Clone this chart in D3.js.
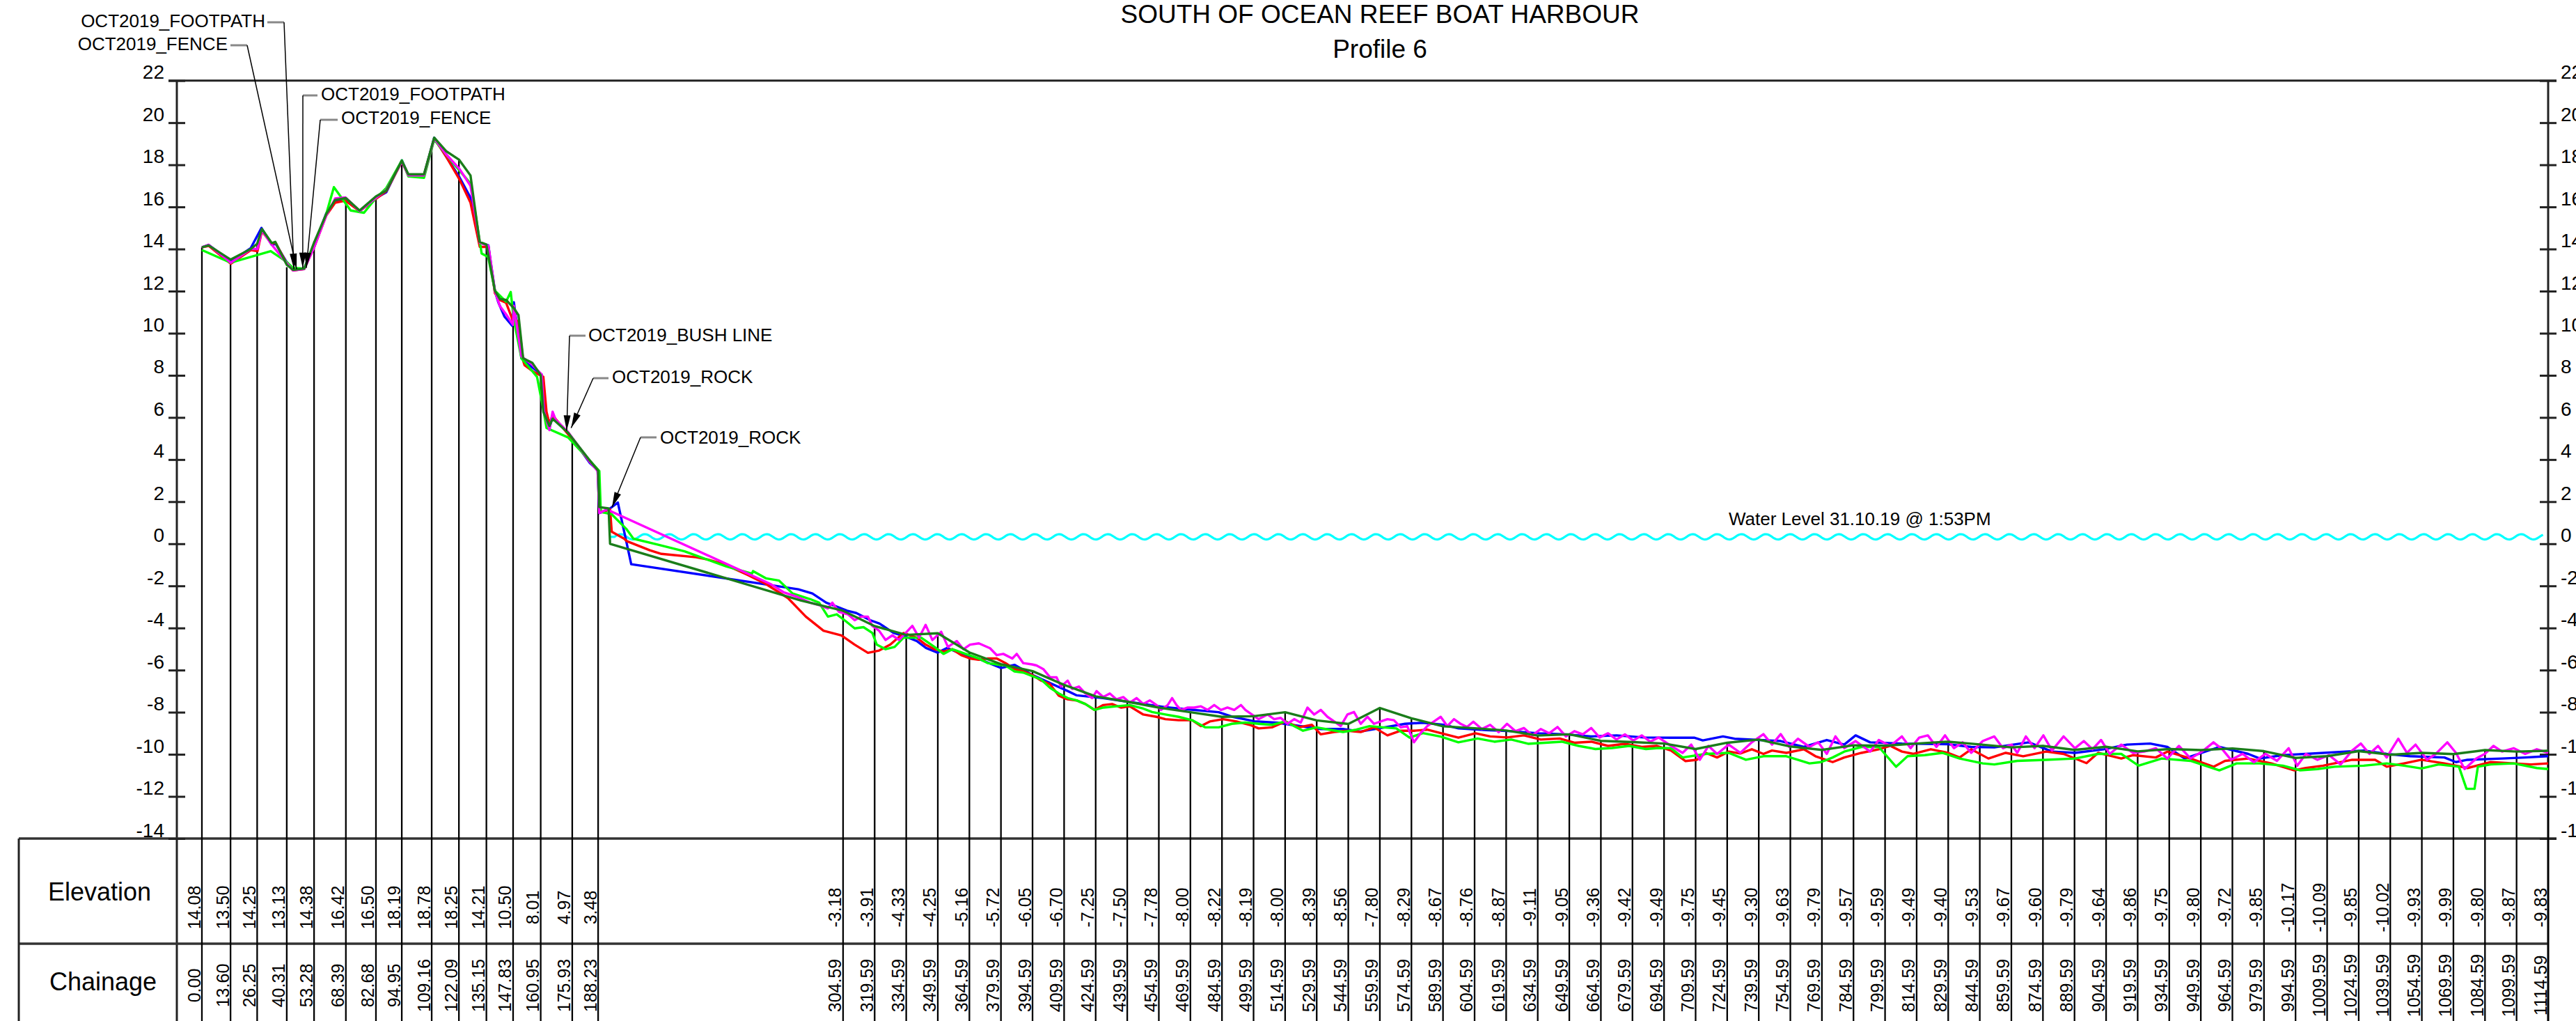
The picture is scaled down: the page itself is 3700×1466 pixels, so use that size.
<!DOCTYPE html>
<html>
<head>
<meta charset="utf-8">
<script src="https://cdn.jsdelivr.net/npm/d3@7/dist/d3.min.js"></script>
<style>
body { margin: 0; background: #fff; }
svg text { font-family: "Liberation Sans", Arial, sans-serif; fill: #000; }
</style>
</head>
<body>
<div id="chart"></div>
<script>
"use strict"
// Survey table printed under the section (chainage in m, elevation in m)
var tableChainage = [0.00, 13.60, 26.25, 40.31, 53.28, 68.39, 82.68, 94.95, 109.16, 122.09, 135.15, 147.83, 160.95, 175.93, 188.23,
    304.59, 319.59, 334.59, 349.59, 364.59, 379.59, 394.59, 409.59, 424.59, 439.59, 454.59, 469.59, 484.59, 499.59, 514.59,
    529.59, 544.59, 559.59, 574.59, 589.59, 604.59, 619.59, 634.59, 649.59, 664.59, 679.59, 694.59, 709.59, 724.59, 739.59,
    754.59, 769.59, 784.59, 799.59, 814.59, 829.59, 844.59, 859.59, 874.59, 889.59, 904.59, 919.59, 934.59, 949.59, 964.59,
    979.59, 994.59, 1009.59, 1024.59, 1039.59, 1054.59, 1069.59, 1084.59, 1099.59, 1114.59];
var tableElevation = [14.08, 13.50, 14.25, 13.13, 14.38, 16.42, 16.50, 18.19, 18.78, 18.25, 14.21, 10.50, 8.01, 4.97, 3.48,
    -3.18, -3.91, -4.33, -4.25, -5.16, -5.72, -6.05, -6.70, -7.25, -7.50, -7.78, -8.00, -8.22, -8.19, -8.00,
    -8.39, -8.56, -7.80, -8.29, -8.67, -8.76, -8.87, -9.11, -9.05, -9.36, -9.42, -9.49, -9.75, -9.45, -9.30,
    -9.63, -9.79, -9.57, -9.59, -9.49, -9.40, -9.53, -9.67, -9.60, -9.79, -9.64, -9.86, -9.75, -9.80, -9.72,
    -9.85, -10.17, -10.09, -9.85, -10.02, -9.93, -9.99, -9.80, -9.87, -9.83];

var yTicks = [-14, -12, -10, -8, -6, -4, -2, 0, 2, 4, 6, 8, 10, 12, 14, 16, 18, 20, 22];
var waterLevel = 0.33;

// Oct 2019 survey (dark green) - dune part, the offshore part follows the table
var surveyOct2019Shore = [[0, 14.08], [3.2, 14.17], [13.6, 13.5], [23.25, 14.0], [26.25, 14.25], [28.5, 14.95], [33.2, 14.28],
    [34.85, 14.34], [40.31, 13.25], [43.3, 13.01], [48.6, 13.07], [53.28, 14.3], [59.1, 15.67], [63.3, 16.33], [68.39, 16.42],
    [74.9, 15.83], [82.68, 16.5], [87.6, 16.77], [94.95, 18.19], [98.1, 17.55], [105.5, 17.55], [110.35, 19.29], [116, 18.65],
    [122.09, 18.25], [127.6, 17.49], [131.9, 14.34], [135.15, 14.21], [139.2, 12.02], [141.5, 11.63], [144.5, 11.58],
    [148.2, 11.19], [150.4, 10.86], [152.6, 8.81], [157, 8.59], [160.95, 8.01], [162.2, 6.27], [165.1, 5.6], [166.6, 5.94],
    [174, 5.27], [184.3, 3.95], [188.23, 3.48], [188.8, 1.74], [193.2, 1.68], [193.9, 0.0], [284.4, -2.69]];

var surveyRed = [[0, 14.08], [3.2, 14.15], [13.76, 13.3], [23.25, 13.95], [26.4, 13.9], [28.5, 14.85], [33.2, 14.25], [35, 14.3],
    [40.1, 13.35], [43.3, 12.98], [48.6, 13.05], [53.4, 14.1], [59.1, 15.6], [63.3, 16.2], [68.2, 16.3], [74.9, 15.8],
    [82.3, 16.35], [87.6, 16.75], [95, 18.15], [98.1, 17.5], [105.5, 17.5], [110.35, 19.25], [116, 18.4], [122.4, 17.3],
    [127.6, 16.2], [132, 14.1], [136.1, 14.1], [139.2, 11.9], [141.5, 11.58], [144.5, 11.45], [148.2, 10.47], [150.4, 10.6],
    [152.6, 8.7], [153.3, 8.48], [157.8, 8.15], [162.2, 7.93], [163.7, 6.27], [165.1, 5.7], [166.6, 6.1], [174, 5.2],
    [184.3, 3.9], [188, 3.5], [189.5, 1.51], [193.9, 1.63], [194.7, 0.57], [200.6, 0.24], [201.75, 0.13], [212.8, -0.31],
    [218.3, -0.48], [234.8, -0.64], [240.3, -0.75], [248.1, -0.97], [259.1, -1.47], [267.9, -1.91], [278.4, -2.58],
    [286.9, -3.46], [295.3, -4.13], [303.8, -4.35], [310.1, -4.79], [316.4, -5.18], [321.7, -5.07], [327, -4.79],
    [333.3, -4.24], [339.6, -4.46], [343.8, -4.79], [348, -5.01], [352.3, -5.12], [356.5, -5.01], [360.7, -5.29],
    [364.9, -5.45], [369.1, -5.51], [373.4, -5.45], [377.6, -5.45], [381.8, -5.67], [386, -5.95], [390.2, -6.06],
    [394.4, -6.23], [398.7, -6.5], [402.9, -6.67], [407.1, -7.22], [411.3, -7.39], [415.5, -7.44], [419.7, -7.61],
    [424, -7.89], [428.2, -7.66], [432.4, -7.61], [436.6, -7.78], [440.8, -7.72], [447.2, -8.11], [453.5, -8.22],
    [457.7, -8.33], [464, -8.38], [470.4, -8.38], [474.6, -8.66], [478.8, -8.44], [485.1, -8.33], [491.5, -8.44],
    [497.8, -8.6], [502, -8.77], [508.3, -8.72], [514.7, -8.44], [521, -8.72], [527.3, -8.6], [531.5, -9.05], [537.9, -8.94],
    [544.2, -8.88], [550.5, -8.94], [556.8, -8.72], [563.2, -9.1], [569.5, -8.88], [575.8, -8.88], [582.1, -8.83],
    [588.5, -8.99], [596.9, -9.21], [605, -9.0], [612, -9.15], [620, -9.2], [628, -9.1], [636, -9.3], [645, -9.25],
    [652, -9.45], [660, -9.4], [668, -9.6], [676, -9.5], [684, -9.65], [691, -9.6], [697.9, -9.82], [704.8, -10.32],
    [710.2, -10.26], [714.4, -9.93], [719.8, -10.15], [725.3, -9.87], [730.8, -9.96], [736.3, -9.76], [741.8, -9.98],
    [745.9, -9.82], [752.7, -9.93], [761, -9.76], [766.5, -10.09], [774.7, -10.37], [780.2, -10.15], [788.4, -9.93],
    [796.6, -9.76], [802.1, -9.6], [807.6, -9.87], [813.1, -9.98], [821.3, -9.76], [829.5, -9.93], [835, -10.15],
    [840.5, -9.76], [848.7, -10.2], [856.9, -9.93], [865.2, -10.09], [876.1, -9.87], [884.4, -9.98], [895.3, -10.42],
    [900.8, -9.93], [911.8, -10.2], [917.3, -10.04], [928.2, -10.15], [933.7, -9.87], [944.7, -10.2], [955.6, -10.59],
    [961.1, -10.31], [972.1, -10.2], [983.1, -10.43], [994, -10.76], [999.5, -10.65], [1007.7, -10.54], [1021.5, -10.26],
    [1032.4, -10.26], [1037.9, -10.59], [1046.1, -10.43], [1054.4, -10.26], [1065.3, -10.43], [1076.3, -10.65],
    [1087.3, -10.37], [1098.2, -10.43], [1106.4, -10.48], [1114.59, -10.43]];

var surveyBlue = [[0, 14.08], [3.2, 14.2], [13.76, 13.4], [23.25, 14.05], [28.3, 15.0], [33.2, 14.2], [35, 14.25], [40.1, 13.4],
    [43.3, 13.0], [48.6, 13.07], [53.4, 14.2], [59.1, 15.7], [63.3, 16.3], [68.2, 16.38], [74.9, 15.8], [82.3, 16.4],
    [87.6, 16.7], [95, 18.21], [98.1, 17.5], [105.5, 17.5], [110.35, 19.29], [116, 18.4], [122.4, 17.4], [127.6, 16.44],
    [132, 14.3], [136.1, 14.17], [139.2, 12.0], [140.8, 11.47], [143.7, 10.8], [147.4, 10.36], [148.2, 11.47], [151.8, 8.81],
    [157, 8.37], [161.4, 8.04], [162.9, 6.27], [165.1, 5.5], [166.6, 6.05], [169.6, 5.72], [174, 5.27], [184.3, 3.84],
    [188, 3.5], [188.8, 1.46], [191.5, 1.55], [193.9, 1.68], [197.6, 1.96], [203.95, -0.97], [283.3, -2.16], [290, -2.36],
    [296.6, -2.8], [301, -2.96], [306.5, -3.18], [310.9, -3.29], [317.5, -3.63], [321.9, -3.79], [328.5, -4.23],
    [334.05, -4.4], [339.6, -4.62], [344, -4.95], [349.5, -5.17], [353.9, -4.95], [358.3, -5.12], [361.6, -5.28],
    [367.1, -5.39], [379.7, -5.9], [386, -5.75], [394.5, -6.23], [411.4, -7.0], [415.6, -7.2], [428, -7.33], [443, -7.55],
    [457.7, -7.76], [470, -7.88], [483, -8.0], [489.3, -8.21], [500, -8.43], [511, -8.5], [521, -8.65], [531.5, -8.8],
    [542, -8.8], [550.4, -8.92], [559, -8.77], [571.6, -8.55], [580, -8.5], [590, -8.6], [597, -8.77], [610, -8.85],
    [622, -8.9], [635, -9.0], [648, -9.05], [660, -9.15], [672, -9.1], [685, -9.2], [697.9, -9.21], [708.9, -9.21],
    [713, -9.34], [722.6, -9.15], [728.1, -9.26], [750, -9.37], [761, -9.65], [771.9, -9.32], [780.2, -9.54], [785.6, -9.1],
    [792.5, -9.43], [807.6, -9.49], [829.5, -9.52], [840.5, -9.65], [851.5, -9.67], [867.9, -9.43], [878.9, -9.87],
    [889.8, -9.93], [903.6, -9.76], [914.5, -9.54], [925.5, -9.49], [933.7, -9.65], [941.9, -10.2], [958.4, -9.65],
    [972.1, -9.98], [977.6, -10.2], [988.6, -10.04], [999.5, -9.98], [1027, -9.82], [1037.9, -9.98], [1048.9, -10.09],
    [1065.3, -10.15], [1070.8, -10.37], [1076.3, -10.26], [1092.7, -10.2], [1103.7, -10.15], [1114.59, -10.09]];

var surveyLime = [[0, 13.95], [13.7, 13.35], [32.7, 13.9], [40.1, 13.4], [43.3, 13.1], [48.6, 13.07], [53.4, 14.12], [59.1, 15.67],
    [62.7, 16.94], [70.7, 15.83], [77, 15.72], [82.3, 16.38], [87.6, 16.9], [95, 18.21], [98.1, 17.45], [105.5, 17.38],
    [110.35, 19.2], [119.2, 18.1], [127.7, 17.1], [132.9, 13.79], [136, 13.62], [139.2, 12.02], [144.5, 11.5], [146.7, 11.96],
    [148.2, 10.64], [151.8, 8.81], [159.2, 7.93], [162.2, 6.38], [163.7, 5.5], [174, 5.05], [184.3, 3.95], [188.8, 3.45],
    [189.5, 1.51], [194.7, 1.4], [201.75, 0.69], [205, 0.24], [216.1, -0.03], [229.3, -0.36], [237, -0.64], [249.2, -1.08],
    [261.3, -1.42], [261.8, -1.3], [267.9, -1.64], [274.2, -1.75], [280.6, -2.36], [289, -2.63], [293.2, -2.8],
    [297.4, -3.46], [301.6, -3.35], [305.9, -3.68], [310.1, -4.02], [314.3, -3.96], [318.5, -4.24], [320.6, -4.79],
    [324.8, -5.01], [329.1, -4.9], [333.3, -4.46], [337.5, -4.46], [341.7, -4.46], [348, -4.9], [352.3, -5.23],
    [356.5, -5.01], [362.8, -5.23], [369.1, -5.45], [373.4, -5.67], [377.6, -5.73], [381.8, -5.78], [386, -6.06],
    [390.2, -6.12], [394.4, -6.28], [398.7, -6.45], [402.9, -6.84], [407.1, -7.11], [411.3, -7.33], [415.5, -7.44],
    [419.7, -7.61], [424, -7.89], [428.2, -7.78], [434.5, -7.72], [440.8, -7.66], [447.2, -7.83], [451.4, -7.99],
    [457.7, -8.11], [464, -8.22], [470.4, -8.38], [476.7, -8.72], [483, -8.72], [489.3, -8.55], [495.7, -8.49], [502, -8.55],
    [508.3, -8.6], [514.7, -8.44], [523.1, -8.88], [529.4, -8.72], [535.7, -8.83], [542.1, -8.94], [548.4, -8.83],
    [554.7, -8.66], [561.1, -8.72], [567.4, -8.77], [573.7, -9.21], [580, -8.99], [588.5, -9.16], [596.9, -9.43],
    [606, -9.25], [614, -9.4], [622, -9.3], [630, -9.5], [638, -9.45], [646, -9.4], [654, -9.6], [662, -9.75], [670, -9.7],
    [678, -9.6], [686, -9.75], [692, -9.7], [697.9, -9.71], [703.4, -10.15], [714.4, -9.98], [725.3, -9.93], [733.5, -10.26],
    [741.8, -10.09], [752.7, -10.09], [763.7, -10.43], [769.2, -10.37], [774.7, -10.15], [780.2, -9.87], [788.4, -9.65],
    [796.6, -9.65], [804.8, -10.59], [810.3, -10.09], [818.5, -10.04], [826.8, -9.93], [835, -10.2], [846, -10.43],
    [851.5, -10.48], [862.4, -10.31], [876.1, -10.26], [889.8, -10.2], [900.8, -9.98], [911.8, -9.98], [920, -10.54],
    [931, -10.2], [944.7, -10.31], [958.4, -10.76], [966.6, -10.43], [977.6, -10.43], [988.6, -10.54], [996.8, -10.76],
    [1005, -10.7], [1013.2, -10.59], [1027, -10.54], [1037.9, -10.43], [1046.1, -10.54], [1054.4, -10.67],
    [1062.6, -10.48], [1072.2, -10.59], [1075.8, -11.64], [1079.6, -11.64], [1081.2, -10.59], [1087.3, -10.48],
    [1098.2, -10.43], [1109.2, -10.65], [1114.59, -10.7]];

var surveyMagenta = [[0, 14.08], [3.2, 14.2], [13.76, 13.35], [23.25, 14.0], [26.4, 14.0], [28.5, 14.9], [33.2, 14.2],
    [40.1, 13.35], [43.3, 12.98], [48.6, 13.05], [53.4, 14.1], [59.1, 15.6], [63.3, 16.4], [68.2, 16.45], [74.9, 15.8],
    [82.3, 16.4], [87.6, 16.8], [95, 18.15], [98.1, 17.5], [105.5, 17.5], [110.35, 19.25], [116, 18.5], [122.4, 17.8],
    [127.6, 17.0], [132, 14.3], [136.1, 14.15], [139.2, 12.0], [141.5, 11.3], [144.5, 10.9], [147.8, 10.4], [148.2, 11.3],
    [151.8, 8.9], [157, 8.5], [161.4, 8.04], [162.5, 6.3], [165.1, 5.4], [166.6, 6.27], [168.1, 5.88], [170, 5.7],
    [174, 5.3], [184.3, 3.9], [188, 3.45], [188.8, 1.46], [192.4, 1.63], [270.1, -1.91], [276.3, -2.3], [282.7, -2.52],
    [289, -2.8], [293.2, -2.91], [297.4, -3.07], [299.5, -2.8], [302.7, -3.24], [306.9, -3.35], [310.1, -3.63],
    [313.2, -3.46], [316.4, -3.46], [318.5, -3.9], [321.7, -4.13], [324.8, -4.57], [328, -4.35], [331.2, -4.57],
    [334.3, -4.24], [337.5, -3.9], [340.7, -4.46], [343.8, -3.85], [347, -4.57], [351.2, -4.18], [354.4, -4.9],
    [358.6, -4.62], [361.8, -5.01], [364.9, -4.79], [369.1, -4.73], [374.4, -4.96], [377.6, -5.29], [380.7, -5.23],
    [385, -5.45], [387.1, -5.23], [390.2, -5.67], [394.4, -5.73], [396.5, -5.78], [399.7, -5.95], [402.9, -6.34],
    [406, -6.34], [408.1, -6.78], [411.3, -6.5], [413.4, -6.89], [416.6, -6.78], [419.7, -7.11], [422.9, -7.33],
    [425, -7.0], [428.2, -7.28], [431.3, -7.11], [434.5, -7.39], [437.7, -7.28], [440.8, -7.55], [444, -7.33],
    [447.2, -7.61], [450.3, -7.44], [453.5, -7.66], [455.6, -7.89], [458.8, -7.66], [460.9, -7.33], [463, -7.66],
    [465.1, -7.89], [468.3, -7.78], [471.4, -7.78], [474.6, -7.72], [477.7, -7.89], [480.9, -7.66], [484.1, -7.89],
    [487.2, -7.78], [490.4, -7.89], [493.6, -7.66], [495.7, -7.89], [498.8, -8.11], [502, -8.33], [506.2, -8.11],
    [509.4, -8.33], [512.5, -8.27], [515.7, -8.55], [518.9, -8.33], [522, -8.49], [525.2, -7.78], [528.4, -8.11],
    [531.5, -7.89], [534.7, -8.22], [537.9, -8.44], [541, -8.66], [544.2, -8.11], [547.3, -7.99], [550.5, -8.55],
    [553.7, -8.22], [556.8, -8.55], [560, -8.44], [563.2, -8.33], [566.3, -8.38], [569.5, -8.72], [572.6, -8.66],
    [575.8, -9.43], [579, -8.99], [582.1, -8.66], [585.3, -8.44], [588.5, -8.22], [591.6, -8.66], [594.8, -8.33],
    [597.9, -8.55], [601, -8.7], [604, -8.45], [608, -8.8], [612, -8.6], [616, -8.95], [620, -8.55], [624, -8.9],
    [628, -8.75], [632, -9.1], [636, -8.8], [640, -9.0], [644, -8.7], [648, -9.15], [652, -8.9], [656, -9.05], [660, -8.75],
    [664, -9.2], [668, -9.0], [672, -9.3], [676, -9.05], [680, -9.35], [684, -9.1], [688, -9.4], [692, -9.2], [697.9, -9.6],
    [703.4, -9.93], [707.5, -9.54], [711.6, -10.26], [715.7, -9.6], [719.8, -9.98], [725.3, -9.54], [730.8, -9.93],
    [736.3, -9.43], [741.8, -9.04], [745.9, -9.54], [750, -9.04], [754.1, -9.65], [758.2, -9.26], [763.7, -9.65],
    [767.8, -9.43], [771.9, -9.98], [776, -9.15], [780.2, -9.71], [785.6, -9.37], [792.5, -9.87], [796.6, -9.32],
    [802.1, -9.6], [807.6, -9.15], [811.7, -9.71], [815.8, -9.21], [819.9, -9.1], [824, -9.65], [828.1, -9.1],
    [832.3, -9.71], [836.4, -9.43], [840.5, -9.93], [846, -9.37], [851.5, -9.15], [855.6, -9.71], [859.7, -9.54],
    [862.4, -9.93], [866.5, -9.15], [870.6, -9.71], [874.8, -9.1], [878.9, -9.82], [884.4, -9.15], [889.8, -9.71],
    [894, -9.37], [898.1, -9.76], [902.2, -9.32], [906.3, -9.98], [911.8, -9.54], [917.3, -9.93], [922.7, -9.87],
    [928.2, -9.71], [933.7, -10.2], [939.2, -9.6], [944.7, -10.2], [950.2, -9.87], [955.6, -9.43], [959.8, -9.76],
    [963.9, -10.26], [969.4, -9.98], [974.8, -10.37], [980.3, -9.98], [985.8, -10.31], [991.3, -9.71], [995.4, -10.54],
    [999.5, -9.98], [1005, -10.26], [1010.5, -10.04], [1016, -10.48], [1021.5, -9.82], [1025.6, -9.49], [1029.7, -9.98],
    [1033.8, -9.6], [1037.9, -10.15], [1043.4, -9.26], [1047.5, -9.93], [1051.6, -9.54], [1057.1, -10.26],
    [1061.2, -9.98], [1066.7, -9.43], [1070.8, -9.93], [1074.9, -10.7], [1080.4, -10.2], [1084.5, -9.98], [1088.6, -9.6],
    [1092.7, -9.87], [1098.2, -9.71], [1103.7, -9.98], [1109.2, -9.76], [1114.59, -9.93]];

// Survey marks called out on the section: label, chainage and level of the arrow tip
var noteText = ["OCT2019_FOOTPATH", "OCT2019_FENCE", "OCT2019_FOOTPATH", "OCT2019_FENCE", "OCT2019_BUSH LINE", "OCT2019_ROCK", "OCT2019_ROCK"];
var noteChainage = [43.7, 45.0, 47.9, 49.6, 173.3, 175.4, 194.8];
var noteElevation = [13.05, 13.05, 13.1, 13.1, 5.37, 5.5, 1.73];

var title = "SOUTH OF OCEAN REEF BOAT HARBOUR";
var subtitle = "Profile 6";
var waterLabel = "Water Level 31.10.19 @ 1:53PM";

// ---- layout ----
var width = 3700, height = 1466;
var plotTop = 115.7, plotBottom = 1204, tableMid = 1355;
var leftAxisX = 254, tableLeft = 27;

var x = d3.scaleLinear().domain([0, 1114.59]).range([290, 3660]);
var y = d3.scaleLinear().domain([-14, 22]).range([plotBottom, plotTop]);
var rightAxisX = x(1114.59);

var svg = d3.select("#chart").append("svg")
    .attr("width", width)
    .attr("height", height)
    .style("display", "block");

// Titles
svg.append("text").attr("x", 1982).attr("y", 33).attr("text-anchor", "middle")
    .style("font-size", "37px").text(title);
svg.append("text").attr("x", 1982).attr("y", 83).attr("text-anchor", "middle")
    .style("font-size", "37px").text(subtitle);

// Frame: top line, axes and table rules
var frame = svg.append("g").attr("stroke", "#222").attr("stroke-width", 3).attr("fill", "none");
frame.append("line").attr("x1", leftAxisX - 12).attr("x2", rightAxisX + 12).attr("y1", plotTop).attr("y2", plotTop);
frame.append("line").attr("x1", leftAxisX).attr("x2", leftAxisX).attr("y1", plotTop).attr("y2", height);
frame.append("line").attr("x1", rightAxisX).attr("x2", rightAxisX).attr("y1", plotTop).attr("y2", height);
frame.append("line").attr("x1", tableLeft).attr("x2", rightAxisX + 12).attr("y1", plotBottom).attr("y2", plotBottom)
    .attr("stroke", "#333").attr("stroke-width", 3.5);
frame.append("line").attr("x1", tableLeft).attr("x2", rightAxisX).attr("y1", tableMid).attr("y2", tableMid)
    .attr("stroke", "#333").attr("stroke-width", 3.5);
frame.append("line").attr("x1", tableLeft).attr("x2", tableLeft).attr("y1", plotBottom).attr("y2", height);

// Elevation axes (ticks cross the axis line)
var yAxisL = d3.axisLeft(y).tickValues(yTicks).tickSize(12).tickFormat(function(d) { return String(d) });
var yAxisR = d3.axisRight(y).tickValues(yTicks).tickSize(12).tickFormat(function(d) { return String(d) });

function styleAxis(g, side) {
    g.select(".domain").remove();
    g.selectAll(".tick line").attr("x1", -12).attr("x2", 12).attr("stroke", "#222").attr("stroke-width", 3);
    g.selectAll(".tick text")
        .attr("x", side * 18)
        .attr("y", -3)
        .attr("dy", 0)
        .style("font-size", "28px")
        .style("font-family", "'Liberation Sans', Arial, sans-serif")
        .attr("fill", "#000");
}
svg.append("g").attr("transform", "translate(" + leftAxisX + ",0)").call(yAxisL).call(styleAxis, -1);
svg.append("g").attr("transform", "translate(" + rightAxisX + ",0)").call(yAxisR).call(styleAxis, 1);

// Table row labels
svg.append("text").attr("x", 143).attr("y", 1293).attr("text-anchor", "middle").style("font-size", "36px").text("Elevation");
svg.append("text").attr("x", 148).attr("y", 1422).attr("text-anchor", "middle").style("font-size", "36px").text("Chainage");

// Vertical chainage lines from the table up to the profile
var stations = d3.zip(tableChainage, tableElevation);
svg.append("g").selectAll("line").data(stations).enter().append("line")
    .attr("x1", function(d) { return x(d[0]) })
    .attr("x2", function(d) { return x(d[0]) })
    .attr("y1", height)
    .attr("y2", function(d) { return y(d[1]) })
    .attr("stroke", "#000")
    .attr("stroke-width", 2.3);

// Table values (rotated)
var tableText = svg.append("g").style("font-size", "25px");
tableText.selectAll(".elev").data(stations).enter().append("text")
    .attr("class", "elev")
    .attr("text-anchor", "middle")
    .attr("transform", function(d) { return "translate(" + (x(d[0]) - 2.5) + ",1303) rotate(-90)" })
    .text(function(d) { return d[1].toFixed(2) });
tableText.selectAll(".chain").data(stations).enter().append("text")
    .attr("class", "chain")
    .attr("text-anchor", "middle")
    .attr("transform", function(d) { return "translate(" + (x(d[0]) - 2.5) + ",1415) rotate(-90)" })
    .text(function(d) { return d[0].toFixed(2) });

// Water level wave symbol
var waveY = y(waterLevel);
var waveStart = x(196), waveEnd = rightAxisX - 6;
var wavePts = [[x(193.9), waveY], [waveStart, waveY]];
for (var px = waveStart; px <= waveEnd; px += 2) {
    wavePts.push([px, waveY - 3.8 * Math.sin((px - waveStart) / 35 * 2 * Math.PI)]);
}
svg.append("path").attr("d", d3.line()(wavePts))
    .attr("fill", "none").attr("stroke", "#00ffff").attr("stroke-width", 3.2);
svg.append("text").attr("x", x(725.3)).attr("y", waveY - 17).style("font-size", "26px").text(waterLabel);

// Survey lines
var line = d3.line()
    .x(function(d) { return x(d[0]) })
    .y(function(d) { return y(d[1]) });

var surveyOct2019 = surveyOct2019Shore.concat(stations.slice(15));
var surveys = [
    { data: surveyBlue, color: "#0000ff" },
    { data: surveyRed, color: "#ff0000" },
    { data: surveyLime, color: "#00ff00" },
    { data: surveyMagenta, color: "#ff00ff" },
    { data: surveyOct2019, color: "#1a7d1a" }
];
svg.append("g").selectAll("path").data(surveys).enter().append("path")
    .attr("d", function(d) { return line(d.data) })
    .attr("fill", "none")
    .attr("stroke", function(d) { return d.color })
    .attr("stroke-width", 3.4)
    .attr("stroke-linejoin", "round");

// Callouts: label position (px), which side the text sits, dash y
var noteLayout = [
    { tx: 381, ty: 39, anchor: "end", dash: [384, 408], dy: 32 },
    { tx: 327, ty: 72, anchor: "end", dash: [331, 355], dy: 65 },
    { tx: 461, ty: 144, anchor: "start", dash: [456, 435], dy: 137 },
    { tx: 490, ty: 178, anchor: "start", dash: [485, 460], dy: 172 },
    { tx: 845, ty: 490, anchor: "start", dash: [841, 818], dy: 482 },
    { tx: 879, ty: 550, anchor: "start", dash: [874, 852], dy: 543 },
    { tx: 948, ty: 637, anchor: "start", dash: [943, 920], dy: 628 }
];
var notes = svg.append("g");
noteText.forEach(function(t, i) {
    var L = noteLayout[i];
    var kx = L.dash[1], ky = L.dy;
    var tipX = x(noteChainage[i]), tipY = y(noteElevation[i]);
    notes.append("text").attr("x", L.tx).attr("y", L.ty).attr("text-anchor", L.anchor)
        .style("font-size", "26px").text(t);
    notes.append("line").attr("x1", L.dash[0]).attr("x2", kx).attr("y1", ky).attr("y2", ky)
        .attr("stroke", "#888").attr("stroke-width", 3);
    notes.append("line").attr("x1", kx).attr("y1", ky).attr("x2", tipX).attr("y2", tipY)
        .attr("stroke", "#000").attr("stroke-width", 1.5);
    // arrow head
    var dx = tipX - kx, dy = tipY - ky, len = Math.sqrt(dx * dx + dy * dy);
    var ux = dx / len, uy = dy / len;
    var bx = tipX - ux * 22, by = tipY - uy * 22;
    var pxh = -uy * 5, pyh = ux * 5;
    notes.append("path")
        .attr("d", "M" + tipX + "," + tipY + "L" + (bx + pxh) + "," + (by + pyh) + "L" + (bx - pxh) + "," + (by - pyh) + "Z")
        .attr("fill", "#000");
});
</script>
</body>
</html>
